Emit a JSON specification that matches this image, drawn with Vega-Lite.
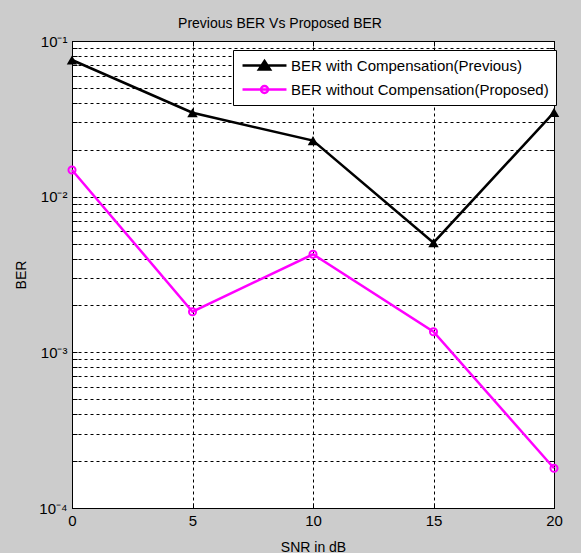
{
  "$schema": "https://vega.github.io/schema/vega-lite/v6.json",
  "width": 482,
  "height": 467,
  "autosize": {"type": "none"},
  "padding": {"left": 72, "top": 41, "right": 27, "bottom": 45},
  "background": "#cccccc",
  "title": {"text": "Previous BER Vs Proposed BER", "fontSize": 14, "font": "Liberation Sans", "fontWeight": "normal", "color": "#000000", "offset": 3, "dx": -33},
  "config": {
    "view": {"fill": "white", "stroke": "black", "strokeWidth": 1},
    "font": "Liberation Sans"
  },
  "data": {
    "values": [
      {"snr": 0, "ber": 0.0755, "series": "BER with Compensation(Previous)"},
      {"snr": 5, "ber": 0.0346, "series": "BER with Compensation(Previous)"},
      {"snr": 10, "ber": 0.0229, "series": "BER with Compensation(Previous)"},
      {"snr": 15, "ber": 0.00506, "series": "BER with Compensation(Previous)"},
      {"snr": 20, "ber": 0.0348, "series": "BER with Compensation(Previous)"},
      {"snr": 0, "ber": 0.01484, "series": "BER without Compensation(Proposed)"},
      {"snr": 5, "ber": 0.001824, "series": "BER without Compensation(Proposed)"},
      {"snr": 10, "ber": 0.004266, "series": "BER without Compensation(Proposed)"},
      {"snr": 15, "ber": 0.001357, "series": "BER without Compensation(Proposed)"},
      {"snr": 20, "ber": 0.00018, "series": "BER without Compensation(Proposed)"}
    ]
  },
  "resolve": {"axis": {"x": "independent", "y": "independent"}},
  "layer": [
    {
      "mark": {"type": "line", "strokeWidth": 2.5},
      "encoding": {
        "x": {"field": "snr", "type": "quantitative",
          "scale": {"domain": [0, 20], "nice": false, "zero": false},
          "axis": {"orient": "bottom", "values": [0, 5, 10, 15, 20], "format": "d", "tickSize": -5, "tickColor": "black", "domainColor": "black", "labelColor": "black", "labelFontSize": 15, "labelPadding": 10, "labelFlush": false, "title": "SNR in dB", "titleFontSize": 14, "titleFontWeight": "normal", "titleColor": "black", "titlePadding": 12, "grid": true, "gridDash": [3, 3], "gridColor": "black", "gridOpacity": 1}},
        "y": {"field": "ber", "type": "quantitative",
          "scale": {"type": "log", "domain": [0.0001, 0.1], "nice": false},
          "axis": {"orient": "left", "values": [0.0001, 0.0002, 0.0003, 0.0004, 0.0005, 0.0006, 0.0007, 0.0008, 0.0009, 0.001, 0.002, 0.003, 0.004, 0.005, 0.006, 0.007, 0.008, 0.009, 0.01, 0.02, 0.03, 0.04, 0.05, 0.06, 0.07, 0.08, 0.09, 0.1],
            "labelExpr": "datum.value == 0.1 ? '10⁻¹' : datum.value == 0.01 ? '10⁻²' : datum.value == 0.001 ? '10⁻³' : datum.value == 0.0001 ? '10⁻⁴' : ''",
            "labelOverlap": false, "labelFlush": false, "tickSize": -5, "tickColor": "black", "domainColor": "black", "labelColor": "black", "labelFontSize": 15, "labelPadding": 10, "title": "BER", "titleFontSize": 14, "titleFontWeight": "normal", "titleColor": "black", "titlePadding": 10, "grid": true, "gridDash": [3, 3], "gridColor": "black", "gridOpacity": 1}},
        "color": {"field": "series", "type": "nominal",
          "scale": {"domain": ["BER with Compensation(Previous)", "BER without Compensation(Proposed)"], "range": ["#000000", "#ff00ff"]},
          "legend": {"orient": "none", "legendX": 161, "legendY": 9, "title": null, "strokeColor": "black", "fillColor": "white", "padding": 7, "labelFontSize": 15, "labelFont": "Liberation Sans", "labelColor": "black", "labelLimit": 500, "symbolSize": 196, "symbolStrokeWidth": 2.5, "symbolOffset": 16, "labelOffset": 18, "rowPadding": 6, "symbolType": "M-1,0H1",
            "encode": {"symbols": {"update": {
              "shape": {"signal": "datum.value === 'BER with Compensation(Previous)' ? 'M-3.14,0H3.14M0,-0.64L0.79,0.57L-0.79,0.57Z' : 'M-3.14,0H3.14M0.5,0A0.5,0.5,0,1,1,-0.5,0A0.5,0.5,0,1,1,0.5,0'"},
              "fill": {"signal": "datum.value === 'BER with Compensation(Previous)' ? 'black' : 'transparent'"}
            }}}}}
      }
    },
    {
      "transform": [{"filter": "datum.series === 'BER with Compensation(Previous)'"}],
      "mark": {"type": "point", "shape": "triangle-up", "filled": true, "size": 110, "color": "black", "opacity": 1},
      "encoding": {
        "x": {"field": "snr", "type": "quantitative", "axis": {"orient": "top", "values": [0, 5, 10, 15, 20], "labels": false, "domain": false, "grid": false, "title": null, "tickSize": -5, "tickColor": "black"}},
        "y": {"field": "ber", "type": "quantitative", "axis": {"orient": "right", "values": [0.0001, 0.0002, 0.0003, 0.0004, 0.0005, 0.0006, 0.0007, 0.0008, 0.0009, 0.001, 0.002, 0.003, 0.004, 0.005, 0.006, 0.007, 0.008, 0.009, 0.01, 0.02, 0.03, 0.04, 0.05, 0.06, 0.07, 0.08, 0.09, 0.1], "labels": false, "domain": false, "grid": false, "title": null, "tickSize": -5, "tickColor": "black"}}
      }
    },
    {
      "transform": [{"filter": "datum.series === 'BER without Compensation(Proposed)'"}],
      "mark": {"type": "point", "shape": "circle", "filled": false, "size": 50, "color": "#ff00ff", "strokeWidth": 2, "opacity": 1},
      "encoding": {
        "x": {"field": "snr", "type": "quantitative", "axis": null},
        "y": {"field": "ber", "type": "quantitative", "axis": null}
      }
    }
  ]
}
